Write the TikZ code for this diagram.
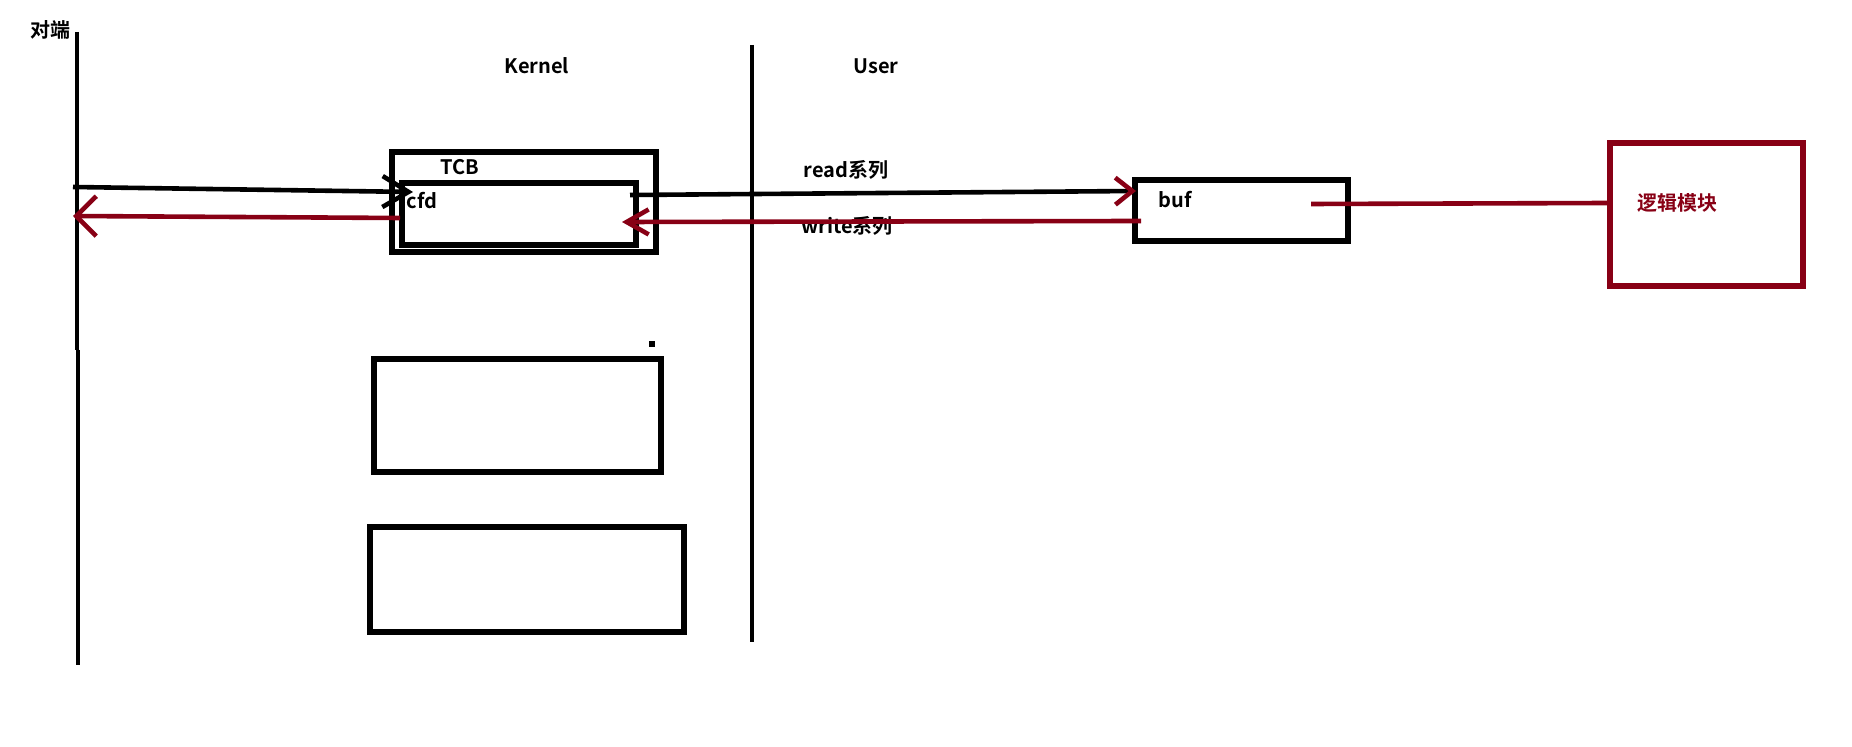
\documentclass[tikz,border=0pt]{standalone}
\usepackage{fontspec}
\setmainfont{Noto Sans CJK SC}[BoldFont={Noto Sans CJK SC Bold}]
\usetikzlibrary{arrows.meta}
\definecolor{paintred}{RGB}{136,0,21}
\tikzset{
  box/.style={draw, line width=2.6pt, inner sep=0pt, outer sep=0pt},
  lbl/.style={font=\bfseries\fontsize{10pt}{12pt}\selectfont, inner sep=0pt},
  wire/.style={line width=2.3pt},
  back/.style={wire, paintred},
}
\begin{document}
\begin{tikzpicture}[x=0.5pt, y=-0.5pt]
	\useasboundingbox (0,0) rectangle (1852,747);
	% dividing lines
	\draw [line width=2.4pt] (77,32) -- (77,350) (78,350) -- (78,665);
	\draw [line width=1.9pt] (752,45) -- (752,642);
	\node [lbl] (peer) at (50,30) {对端};
	\node [lbl] (kernel) at (537,66) {Kernel};
	\node [lbl] (user) at (876,66) {User};
	% boxes
	\node [box, minimum width=132pt, minimum height=50pt] (tcb) at (524,202) {};
	\node [box, minimum width=117pt, minimum height=31pt] (cfd) at (519,214) {};
	\node [box, minimum width=106.5pt, minimum height=30.5pt] (buf) at (1241.5,210.5) {};
	\node [box, paintred, minimum width=96.5pt, minimum height=71.5pt] (logic) at (1706.5,214.5) {};
	\node [box, minimum width=143.5pt, minimum height=56.5pt] (slot1) at (517.5,415.5) {};
	\node [box, minimum width=157pt, minimum height=52.5pt] (slot2) at (527,579.5) {};
	\fill (649,341) rectangle (655,347);
	\node [lbl] (tcbtext) at (460,167) {TCB};
	\node [lbl] (cfdtext) at (422,201) {cfd};
	\node [lbl] (buftext) at (1175,200) {buf};
	\node [lbl] (readtext) at (846,170) {read系列};
	\node [lbl] (writetext) at (847,226) {write系列};
	\node [lbl, paintred] (logictext) at (1677,203) {逻辑模块};
	% connector ends
	\coordinate (peerin) at (73,187);
	\coordinate (cfdin) at (413,192);
	\coordinate (cfdout) at (400,218);
	\coordinate (peerout) at (73,216);
	\coordinate (cfdread) at (630,195);
	\coordinate (bufin) at (1136,191);
	\coordinate (bufout) at (1141,221);
	\coordinate (cfdwrite) at (622,222);
	\coordinate (bufdata) at (1311,204);
	\coordinate (logicin) at (1609,203);
	% arrows
	\draw [wire, -{Straight Barb[length=13pt, width=15.5pt]}] (peerin) -- (cfdin);
	\draw [back, -{Straight Barb[length=10pt, width=20pt]}] (cfdout) -- (peerout);
	\draw [wire, -{Straight Barb[length=8.5pt, width=13.5pt, color=paintred]}] (cfdread) -- (bufin);
	\draw [back, -{Straight Barb[length=11pt, width=12.5pt]}] (bufout) -- (cfdwrite);
	\draw [back] (bufdata) -- (logicin);
\end{tikzpicture}
\end{document}
